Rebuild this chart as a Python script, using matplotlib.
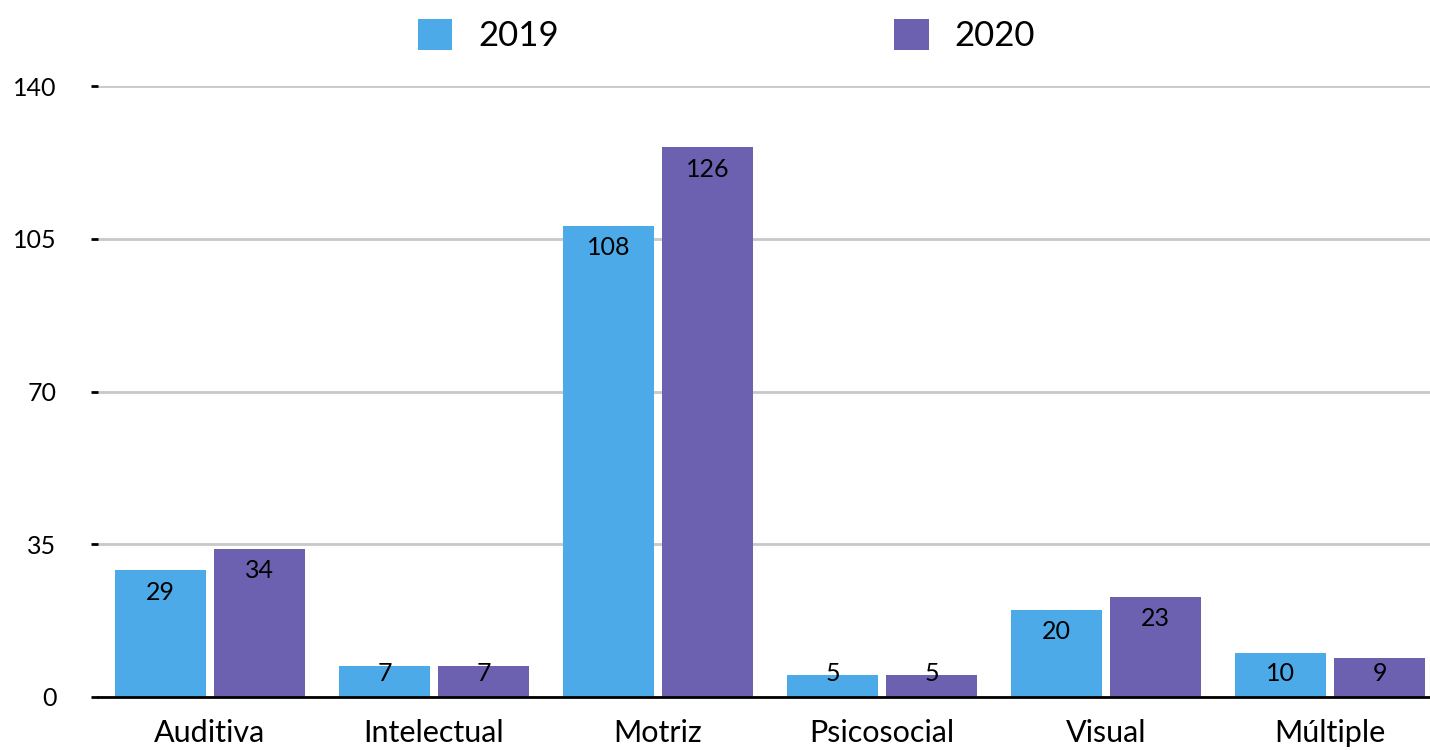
import numpy as np
import matplotlib
matplotlib.use("Agg")
import matplotlib.pyplot as plt
from matplotlib.patches import Patch

plt.rcParams['font.family'] = ['Lato', 'DejaVu Sans']

# data
categories = ['Auditiva', 'Intelectual', 'Motriz', 'Psicosocial', 'Visual', 'Múltiple']
values_2019 = [29, 7, 108, 5, 20, 10]
values_2020 = [34, 7, 126, 5, 23, 9]
series_names = ['2019', '2020']
yticks = [0, 35, 70, 105, 140]

color_2019 = '#4DAAE8'
color_2020 = '#6C61B0'

fig = plt.figure(figsize=(14.3, 7.5), dpi=100)
# plot area runs slightly past the right edge of the image, like the original
ax = fig.add_axes([0.0685, 0.0707, 0.94, 0.8146])

x = np.arange(len(categories))
w = 0.406
off = 0.221
ax.bar(x - off, values_2019, w, color=color_2019, zorder=3)
ax.bar(x + off, values_2020, w, color=color_2020, zorder=3)

# value labels inside bars near the top; short bars keep the label above the base
label_floor = 10.5
for xs, vals in ((x - off, values_2019), (x + off, values_2020)):
    for xi, v in zip(xs, vals):
        ax.annotate(str(v), (xi, max(v, label_floor)), xytext=(0, -16),
                    textcoords='offset points', ha='center', va='center',
                    fontsize=18, color='black', zorder=4)

ax.set_xlim(-0.5, len(categories) - 0.5)
ax.set_ylim(0, 140)
ax.set_yticks(yticks)
ax.set_yticklabels([str(t) for t in yticks], fontsize=18)
ax.set_xticks(x)
ax.set_xticklabels(categories, fontsize=22)

ax.grid(axis='y', color='#C8C8C8', linewidth=2, zorder=0)
ax.tick_params(axis='y', length=5, width=2, pad=25, color='black')
ax.tick_params(axis='x', length=0, pad=16)

for s in ('left', 'right', 'top'):
    ax.spines[s].set_visible(False)
ax.spines['bottom'].set_linewidth(2)
ax.spines['bottom'].set_zorder(5)

handles = [Patch(facecolor=color_2019), Patch(facecolor=color_2020)]
fig.legend(handles, series_names, loc='center', bbox_to_anchor=(0.508, 0.953),
           ncol=2, frameon=False, fontsize=25, handlelength=1.0, handleheight=1.0,
           columnspacing=9.65, handletextpad=0.75)

fig.savefig('out.png', dpi=100)
